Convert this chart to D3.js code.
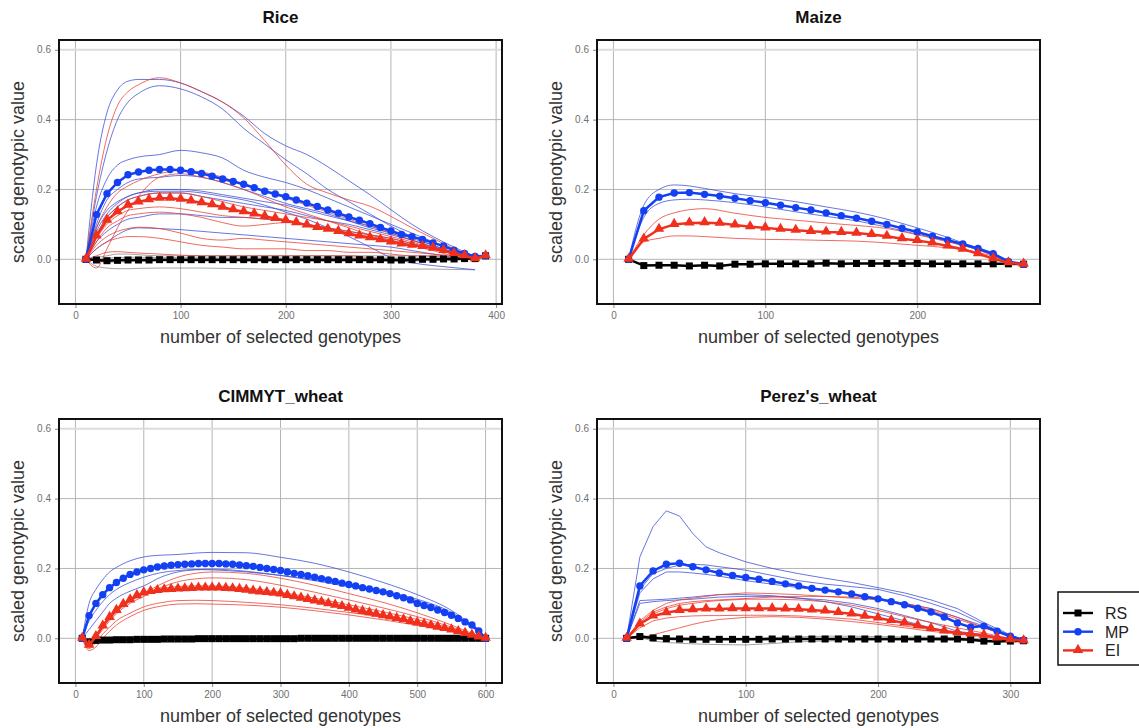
<!DOCTYPE html>
<html>
<head>
<meta charset="utf-8">
<script src="https://cdn.jsdelivr.net/npm/d3@7"></script>
<style>
body { margin: 0; background: #fff; }
text { font-family: "Liberation Sans", Arial, Helvetica, sans-serif; }
</style>
</head>
<body>
<svg width="1139" height="728"></svg>
<script>
// ---- data ----
var yTicks = [0, 0.2, 0.4, 0.6];

// Rice
var riceTicks = [0, 100, 200, 300, 400];
var riceX = [10,20,30,40,50,60,70,80,90,100,110,120,130,140,150,160,170,180,190,200,
  210,220,230,240,250,260,270,280,290,300,310,320,330,340,350,360,370,380,390];
var riceRS = [0,-0.002,-0.004,-0.003,-0.002,-0.002,-0.002,-0.001,-0.001,-0.001,
  -0.001,-0.001,-0.001,-0.001,-0.001,-0.001,-0.001,-0.001,-0.001,-0.001,
  -0.001,-0.001,-0.001,-0.001,-0.001,-0.001,-0.001,-0.001,-0.001,-0.002,
  -0.002,-0.001,0,0,0.001,0.001,0.002,0.002,0.01];
var riceMP = [0,0.128,0.188,0.22,0.242,0.25,0.255,0.257,0.257,0.255,
  0.251,0.246,0.238,0.23,0.223,0.215,0.205,0.195,0.187,0.179,
  0.17,0.161,0.151,0.141,0.132,0.121,0.112,0.102,0.091,0.081,
  0.071,0.065,0.057,0.047,0.038,0.026,0.017,0.008,0.01];
var riceEI = [0,0.067,0.112,0.136,0.155,0.164,0.171,0.175,0.175,0.172,
  0.167,0.162,0.156,0.149,0.142,0.136,0.13,0.123,0.117,0.111,
  0.105,0.098,0.091,0.086,0.08,0.073,0.067,0.062,0.056,0.05,
  0.044,0.04,0.037,0.032,0.025,0.017,0.01,0.002,0.01];
var riceThinX = [10,20,30,40,50,60,80,100,120,140,160,180,200,220,240,260,280,300,320,340,360,380];
var riceThinRS = [
  [0,-0.02,-0.025,-0.027,-0.027,-0.026,-0.025,-0.025,-0.025,-0.026,-0.027,-0.028,-0.028,-0.028,-0.028,-0.028,-0.028,-0.028,-0.028,-0.028,-0.029,-0.03],
  [0,0.005,0.01,0.015,0.015,0.013,0.01,0.01,0.01,0.01,0.01,0.01,0.01,0.01,0.01,0.01,0.01,0.01,0.01,0.008,0.005,0],
  [0,-0.005,-0.008,-0.008,-0.007,-0.006,-0.005,-0.005,-0.005,-0.005,-0.006,-0.006,-0.006,-0.006,-0.006,-0.006,-0.006,-0.006,-0.005,-0.004,-0.003,0],
  [0,0,0.003,0.005,0.006,0.006,0.005,0.005,0.004,0.004,0.004,0.004,0.004,0.004,0.004,0.004,0.004,0.004,0.004,0.004,0.003,0.002]
];
var riceThinMP = [
  [0,0.27,0.42,0.485,0.51,0.515,0.515,0.505,0.48,0.45,0.41,0.36,0.325,0.3,0.265,0.225,0.185,0.142,0.1,0.065,0.035,0.008],
  [0,0.18,0.31,0.4,0.45,0.475,0.497,0.488,0.465,0.43,0.375,0.33,0.285,0.245,0.2,0.165,0.13,0.095,0.065,0.04,0.02,0.005],
  [0,0.15,0.23,0.27,0.285,0.293,0.3,0.312,0.305,0.29,0.255,0.235,0.22,0.2,0.175,0.15,0.125,0.1,0.075,0.05,0.025,0.005],
  [0,0.1,0.17,0.2,0.22,0.23,0.235,0.24,0.235,0.22,0.2,0.18,0.16,0.145,0.13,0.11,0.09,0.075,0.055,0.035,0.02,0.005],
  [0,0.08,0.13,0.16,0.18,0.19,0.2,0.2,0.195,0.185,0.175,0.165,0.155,0.14,0.125,0.11,0.095,0.08,0.06,0.04,0.02,0.005],
  [0,0.07,0.12,0.15,0.17,0.18,0.19,0.19,0.18,0.17,0.16,0.15,0.14,0.125,0.11,0.1,0.085,0.07,0.055,0.035,0.02,0.005],
  [0,0.05,0.08,0.1,0.115,0.12,0.13,0.13,0.125,0.12,0.12,0.115,0.11,0.1,0.09,0.08,0.07,0.06,0.045,0.03,0.015,0.005],
  [0,0.03,0.05,0.07,0.085,0.09,0.088,0.085,0.08,0.075,0.07,0.065,0.06,0.055,0.05,0.045,0.04,0.035,0.025,0.015,0.005,0],
  [0,0.09,0.14,0.165,0.18,0.19,0.195,0.195,0.19,0.18,0.17,0.155,0.135,0.115,0.09,0.065,0.035,0.005,-0.01,-0.018,-0.024,-0.03]
];
var riceThinEI = [
  [0,0.2,0.35,0.44,0.48,0.5,0.52,0.505,0.48,0.45,0.405,0.34,0.27,0.215,0.19,0.17,0.152,0.123,0.09,0.06,0.03,0.005],
  [0,0.09,0.15,0.19,0.21,0.225,0.245,0.255,0.25,0.235,0.215,0.195,0.175,0.155,0.135,0.115,0.095,0.075,0.055,0.035,0.02,0.005],
  [0,-0.025,0.03,0.09,0.14,0.18,0.235,0.245,0.235,0.22,0.2,0.175,0.15,0.13,0.11,0.09,0.07,0.055,0.04,0.025,0.01,0.005],
  [0,0.07,0.12,0.15,0.17,0.18,0.19,0.19,0.18,0.165,0.15,0.14,0.13,0.12,0.11,0.095,0.08,0.065,0.05,0.03,0.015,0.005],
  [0,0.06,0.1,0.125,0.14,0.145,0.15,0.145,0.135,0.125,0.12,0.115,0.11,0.1,0.09,0.08,0.07,0.06,0.045,0.03,0.015,0.005],
  [0,0.05,0.09,0.11,0.125,0.13,0.135,0.13,0.12,0.105,0.095,0.1,0.105,0.1,0.09,0.075,0.065,0.055,0.04,0.03,0.015,0.005],
  [0,0.04,0.065,0.08,0.088,0.092,0.088,0.075,0.06,0.055,0.06,0.055,0.05,0.045,0.04,0.035,0.03,0.025,0.02,0.015,0.01,0.005],
  [0,0.03,0.05,0.06,0.065,0.065,0.06,0.05,0.04,0.035,0.03,0.03,0.03,0.025,0.025,0.02,0.02,0.015,0.01,0.01,0.005,0],
  [0,0.01,0.02,0.022,0.02,0.018,0.015,0.012,0.01,0.01,0.01,0.01,0.01,0.01,0.01,0.01,0.005,0,0,0,0,0]
];

// Maize
var maizeTicks = [0, 100, 200];
var maizeX = [10,20,30,40,50,60,70,80,90,100,110,120,130,140,150,160,170,180,190,200,
  210,220,230,240,250,260,270];
var maizeRS = [0,-0.018,-0.017,-0.017,-0.019,-0.017,-0.019,-0.014,-0.014,-0.013,
  -0.013,-0.013,-0.013,-0.011,-0.013,-0.012,-0.012,-0.012,-0.012,-0.012,
  -0.013,-0.013,-0.013,-0.013,-0.013,-0.013,-0.014];
var maizeMP = [0,0.139,0.178,0.19,0.191,0.186,0.181,0.175,0.168,0.162,
  0.155,0.148,0.141,0.133,0.125,0.118,0.109,0.1,0.089,0.078,
  0.066,0.055,0.044,0.031,0.016,-0.006,-0.014];
var maizeEI = [0,0.058,0.086,0.1,0.104,0.105,0.103,0.098,0.093,0.09,
  0.086,0.083,0.08,0.078,0.077,0.075,0.071,0.066,0.059,0.054,
  0.047,0.038,0.029,0.016,0.002,-0.01,-0.014];
var maizeThinX = [10,20,30,40,50,60,80,100,120,140,160,180,200,220,240,250,260,270];
var maizeThinRS = [
  [0,-0.015,-0.016,-0.017,-0.018,-0.017,-0.015,-0.014,-0.013,-0.012,-0.012,-0.012,-0.013,-0.013,-0.013,-0.013,-0.013,-0.014]
];
var maizeThinMP = [
  [0,0.155,0.2,0.213,0.21,0.203,0.188,0.177,0.165,0.15,0.135,0.115,0.09,0.063,0.03,0.012,-0.008,-0.014],
  [0,0.12,0.16,0.17,0.172,0.17,0.162,0.15,0.136,0.123,0.11,0.092,0.072,0.052,0.027,0.012,-0.006,-0.014]
];
var maizeThinEI = [
  [0,0.07,0.115,0.133,0.142,0.145,0.132,0.12,0.112,0.104,0.097,0.088,0.07,0.05,0.027,0.01,-0.006,-0.014],
  [0,0.05,0.06,0.067,0.067,0.065,0.06,0.057,0.056,0.054,0.052,0.047,0.04,0.033,0.02,0.008,-0.006,-0.014]
];

// CIMMYT_wheat
var cimmytTicks = [0, 100, 200, 300, 400, 500, 600];
var cimmytX = [10,20,30,40,50,60,70,80,90,100,110,120,130,140,150,160,170,180,190,200,
  210,220,230,240,250,260,270,280,290,300,310,320,330,340,350,360,370,380,390,400,
  410,420,430,440,450,460,470,480,490,500,510,520,530,540,550,560,570,580,590,600];
var cimmytRS = [0,-0.01,-0.006,-0.005,-0.005,-0.004,-0.004,-0.004,-0.003,-0.003,
  -0.003,-0.003,-0.002,-0.002,-0.002,-0.002,-0.002,-0.001,-0.001,-0.001,
  -0.001,-0.001,-0.001,-0.001,-0.001,-0.001,-0.001,-0.001,-0.001,-0.001,
  -0.001,-0.001,0,0,0,0,0,0,0,0,
  0,0,0,0,0,0,0,0,0,0,
  0,0,0,0,0,0,0,0,0,0];
var cimmytMP = [0,0.065,0.1,0.125,0.145,0.16,0.172,0.183,0.19,0.196,
  0.2,0.204,0.207,0.209,0.211,0.212,0.213,0.214,0.214,0.214,
  0.214,0.213,0.212,0.21,0.208,0.206,0.203,0.2,0.197,0.194,
  0.19,0.186,0.183,0.179,0.175,0.171,0.167,0.163,0.158,0.154,
  0.15,0.145,0.141,0.137,0.133,0.128,0.122,0.116,0.11,0.1,
  0.094,0.088,0.081,0.074,0.066,0.057,0.047,0.038,0.021,0];
var cimmytEI = [0,-0.02,0.005,0.035,0.06,0.08,0.097,0.11,0.122,0.13,
  0.134,0.137,0.139,0.14,0.141,0.142,0.143,0.144,0.144,0.144,
  0.144,0.143,0.142,0.14,0.138,0.135,0.133,0.131,0.129,0.127,
  0.123,0.119,0.115,0.111,0.107,0.103,0.099,0.095,0.091,0.086,
  0.081,0.077,0.073,0.069,0.065,0.061,0.057,0.053,0.048,0.044,
  0.04,0.036,0.032,0.028,0.024,0.019,0.014,0.009,0.004,0];
var cimmytThinX = [10,20,30,40,50,60,80,100,125,150,175,200,250,300,350,400,450,500,550,575,600];
var cimmytThinRS = [
  [0,-0.012,-0.01,-0.008,-0.007,-0.006,-0.005,-0.004,-0.003,-0.003,-0.002,-0.002,-0.001,-0.001,0,0,0,0,0,0,0]
];
var cimmytThinMP = [
  [0,0.1,0.14,0.168,0.19,0.203,0.222,0.233,0.238,0.24,0.244,0.246,0.245,0.232,0.215,0.19,0.16,0.125,0.08,0.045,0],
  [0,0.025,0.05,0.075,0.1,0.115,0.135,0.15,0.175,0.19,0.196,0.198,0.192,0.18,0.165,0.148,0.13,0.108,0.07,0.04,0],
  [0,0.05,0.08,0.105,0.125,0.14,0.16,0.175,0.188,0.194,0.197,0.196,0.19,0.18,0.168,0.152,0.135,0.112,0.074,0.042,0]
];
var cimmytThinEI = [
  [0,-0.02,0.005,0.03,0.055,0.075,0.105,0.128,0.155,0.175,0.186,0.19,0.186,0.172,0.152,0.128,0.103,0.073,0.038,0.018,0],
  [0,-0.025,0,0.025,0.05,0.07,0.1,0.12,0.145,0.162,0.17,0.173,0.168,0.152,0.132,0.11,0.087,0.062,0.032,0.014,0],
  [0,-0.03,-0.012,0.012,0.032,0.05,0.072,0.09,0.102,0.108,0.109,0.108,0.103,0.096,0.086,0.074,0.06,0.043,0.023,0.01,0],
  [0,-0.035,-0.025,0,0.02,0.038,0.062,0.08,0.092,0.098,0.099,0.098,0.095,0.089,0.079,0.067,0.053,0.037,0.019,0.008,0],
  [0,-0.015,0.01,0.04,0.065,0.085,0.11,0.128,0.142,0.148,0.15,0.15,0.144,0.132,0.115,0.096,0.076,0.054,0.028,0.012,0]
];

// Perez's_wheat
var perezTicks = [0, 100, 200, 300];
var perezX = [10,20,30,40,50,60,70,80,90,100,110,120,130,140,150,160,170,180,190,200,
  210,220,230,240,250,260,270,280,290,300,310];
var perezRS = [0,0.005,0.001,-0.001,-0.002,-0.003,-0.003,-0.003,-0.003,-0.003,
  -0.003,-0.002,-0.002,-0.002,-0.002,-0.002,-0.002,-0.002,-0.002,-0.002,
  -0.002,-0.002,-0.002,-0.002,-0.002,-0.002,-0.004,-0.008,-0.009,-0.008,-0.007];
var perezMP = [0,0.15,0.193,0.212,0.215,0.205,0.196,0.187,0.18,0.174,
  0.169,0.163,0.156,0.15,0.143,0.138,0.133,0.127,0.119,0.113,
  0.105,0.096,0.086,0.075,0.061,0.044,0.032,0.035,0.02,0.006,-0.005];
var perezEI = [0,0.041,0.064,0.073,0.08,0.082,0.084,0.084,0.085,0.085,
  0.085,0.085,0.084,0.083,0.081,0.078,0.074,0.07,0.063,0.058,
  0.051,0.044,0.036,0.028,0.021,0.016,0.0125,0.009,0.001,-0.004,-0.007];
var perezThinX = [10,20,30,40,50,60,70,80,100,120,140,160,180,200,220,240,260,280,300,310];
var perezThinRS = [
  [0,0.003,-0.008,-0.012,-0.014,-0.016,-0.017,-0.018,-0.019,-0.015,-0.01,-0.008,-0.006,-0.005,-0.005,-0.005,-0.006,-0.008,-0.008,-0.007],
  [0,0.008,0.004,0.002,0.002,0.002,0.001,0,0,0.002,0.004,0.006,0.006,0.005,0.004,0.003,0.002,-0.004,-0.008,-0.007]
];
var perezThinMP = [
  [0,0.233,0.32,0.365,0.35,0.3,0.262,0.245,0.219,0.2,0.185,0.172,0.16,0.145,0.13,0.11,0.085,0.045,0.01,-0.005],
  [0,0.14,0.185,0.2,0.21,0.212,0.21,0.205,0.195,0.18,0.165,0.155,0.148,0.14,0.122,0.1,0.075,0.04,0.008,-0.005],
  [0,0.13,0.17,0.19,0.19,0.187,0.183,0.178,0.165,0.155,0.145,0.135,0.125,0.115,0.1,0.085,0.06,0.035,0.005,-0.005],
  [0,0.108,0.11,0.112,0.115,0.118,0.122,0.125,0.125,0.122,0.115,0.105,0.09,0.07,0.05,0.03,0.015,0.005,0,-0.005],
  [0,0.1,0.105,0.108,0.11,0.112,0.115,0.118,0.12,0.12,0.115,0.11,0.1,0.085,0.065,0.045,0.02,0.01,0,-0.005]
];
var perezThinEI = [
  [0,0.05,0.08,0.1,0.11,0.115,0.12,0.125,0.13,0.128,0.125,0.12,0.115,0.11,0.1,0.085,0.06,0.03,0.005,-0.007],
  [0,0.04,0.07,0.085,0.095,0.1,0.105,0.108,0.112,0.112,0.11,0.105,0.095,0.08,0.062,0.045,0.03,0.015,0,-0.007],
  [0,0.03,0.05,0.058,0.062,0.064,0.065,0.065,0.066,0.066,0.064,0.06,0.055,0.045,0.035,0.025,0.015,0.007,0,-0.007],
  [0,0,0.01,0.02,0.03,0.04,0.048,0.054,0.06,0.062,0.06,0.055,0.048,0.04,0.03,0.02,0.012,0.005,0,-0.007],
  [0,0.045,0.075,0.09,0.1,0.105,0.108,0.11,0.114,0.118,0.12,0.12,0.118,0.112,0.1,0.08,0.055,0.03,0.005,-0.007]
];

var methods = ["RS", "MP", "EI"];

// ---- layout ----
var svg = d3.select("svg");
var PW = 443, PH = 264;
var THICK = { RS: "#000000", MP: "#1240f2", EI: "#f0301c" };
var THIN = { RS: "#555555", MP: "#3548d6", EI: "#e8392e" };

var panels = [
  { title: "Rice", xmax: 390, ticks: riceTicks, left: 59, top: 40, curve: d3.curveMonotoneX,
    x: riceX, RS: riceRS, MP: riceMP, EI: riceEI,
    thinX: riceThinX, thin: { RS: riceThinRS, MP: riceThinMP, EI: riceThinEI } },
  { title: "Maize", xmax: 270, ticks: maizeTicks, left: 597, top: 40, curve: d3.curveMonotoneX,
    x: maizeX, RS: maizeRS, MP: maizeMP, EI: maizeEI,
    thinX: maizeThinX, thin: { RS: maizeThinRS, MP: maizeThinMP, EI: maizeThinEI } },
  { title: "CIMMYT_wheat", xmax: 600, ticks: cimmytTicks, left: 59, top: 419, curve: d3.curveMonotoneX,
    x: cimmytX, RS: cimmytRS, MP: cimmytMP, EI: cimmytEI,
    thinX: cimmytThinX, thin: { RS: cimmytThinRS, MP: cimmytThinMP, EI: cimmytThinEI } },
  { title: "Perez's_wheat", xmax: 310, ticks: perezTicks, left: 597, top: 419, curve: d3.curveLinear,
    x: perezX, RS: perezRS, MP: perezMP, EI: perezEI,
    thinX: perezThinX, thin: { RS: perezThinRS, MP: perezThinMP, EI: perezThinEI } }
];

function drawMarkers(g, m, pts) {
  if (m === "RS") {
    g.selectAll(".m").data(pts).enter().append("rect")
      .attr("x", function(d) { return d[0] - 3.5; })
      .attr("y", function(d) { return d[1] - 3.5; })
      .attr("width", 7).attr("height", 7)
      .attr("fill", THICK.RS);
  } else if (m === "MP") {
    g.selectAll(".m").data(pts).enter().append("circle")
      .attr("cx", function(d) { return d[0]; })
      .attr("cy", function(d) { return d[1]; })
      .attr("r", 3.7)
      .attr("fill", THICK.MP);
  } else {
    var tri = d3.symbol().type(d3.symbolTriangle).size(48);
    g.selectAll(".m").data(pts).enter().append("path")
      .attr("d", tri)
      .attr("transform", function(d) { return "translate(" + d[0] + "," + (d[1] - 0.5) + ")"; })
      .attr("fill", THICK.EI);
  }
}

function drawPanel(p, i) {
  var x = d3.scaleLinear().domain([-0.04 * p.xmax, 1.04 * p.xmax]).range([p.left, p.left + PW]);
  var y = d3.scaleLinear().domain([-0.128, 0.628]).range([p.top + PH, p.top]);
  var g = svg.append("g");

  g.append("clipPath").attr("id", "clip" + i).append("rect")
    .attr("x", p.left).attr("y", p.top).attr("width", PW).attr("height", PH);

  // grid
  g.append("g").selectAll("line").data(p.ticks).enter().append("line")
    .attr("x1", function(d) { return x(d); }).attr("x2", function(d) { return x(d); })
    .attr("y1", p.top).attr("y2", p.top + PH)
    .attr("stroke", "#b4b4b4").attr("stroke-width", 1);
  g.append("g").selectAll("line").data(yTicks).enter().append("line")
    .attr("x1", p.left).attr("x2", p.left + PW)
    .attr("y1", function(d) { return y(d); }).attr("y2", function(d) { return y(d); })
    .attr("stroke", function(d) { return d === 0.6 ? "#dcdcdc" : "#b4b4b4"; })
    .attr("stroke-width", function(d) { return d === 0.6 ? 2 : 1; });

  // axes
  var ax = g.append("g").attr("transform", "translate(0," + (p.top + PH) + ")")
    .call(d3.axisBottom(x).tickValues(p.ticks).tickSize(4).tickPadding(4));
  var ay = g.append("g").attr("transform", "translate(" + p.left + ",0)")
    .call(d3.axisLeft(y).tickValues(yTicks).tickFormat(d3.format(".1f")).tickSize(4).tickPadding(4));
  [ax, ay].forEach(function(a) {
    a.select(".domain").remove();
    a.selectAll("line").attr("stroke", "#888");
    a.selectAll("text").attr("fill", "#707070").style("font-size", "10px")
      .style("font-family", "'Liberation Sans', Arial, sans-serif");
  });

  var plot = g.append("g").attr("clip-path", "url(#clip" + i + ")");

  // thin lines for each trait
  var thinLine = d3.line()
    .x(function(d) { return x(d[0]); })
    .y(function(d) { return y(d[1]); })
    .curve(p.curve);
  methods.forEach(function(m) {
    p.thin[m].forEach(function(vals) {
      var pts = vals.map(function(v, k) { return [p.thinX[k], v]; });
      plot.append("path").datum(pts)
        .attr("d", thinLine)
        .attr("fill", "none")
        .attr("stroke", THIN[m])
        .attr("stroke-opacity", m === "RS" ? 0.55 : 0.75)
        .attr("stroke-width", 1);
    });
  });

  // averaged lines with markers
  var thickLine = d3.line()
    .x(function(d) { return d[0]; })
    .y(function(d) { return d[1]; });
  methods.forEach(function(m) {
    var pts = p[m].map(function(v, k) { return [x(p.x[k]), y(v)]; });
    var mg = plot.append("g");
    mg.append("path").datum(pts)
      .attr("d", thickLine)
      .attr("fill", "none")
      .attr("stroke", THICK[m])
      .attr("stroke-width", 2.5);
    drawMarkers(mg, m, pts);
  });

  // box
  g.append("rect")
    .attr("x", p.left).attr("y", p.top).attr("width", PW).attr("height", PH)
    .attr("fill", "none").attr("stroke", "#111").attr("stroke-width", 2);

  // labels
  g.append("text")
    .attr("x", p.left + PW / 2).attr("y", p.top - 17)
    .attr("text-anchor", "middle")
    .style("font-size", "17px").style("font-weight", "bold").attr("fill", "#111")
    .text(p.title);
  g.append("text")
    .attr("x", p.left + PW / 2).attr("y", p.top + PH + 39)
    .attr("text-anchor", "middle")
    .style("font-size", "18px").attr("fill", "#333")
    .text("number of selected genotypes");
  g.append("text")
    .attr("transform", "translate(" + (p.left - 35) + "," + (p.top + PH / 2) + ") rotate(-90)")
    .attr("text-anchor", "middle")
    .style("font-size", "18px").attr("fill", "#333")
    .text("scaled genotypic value");
}

panels.forEach(drawPanel);

// legend
var leg = svg.append("g");
leg.append("rect")
  .attr("x", 1058).attr("y", 592).attr("width", 100).attr("height", 73)
  .attr("fill", "#fff").attr("stroke", "#111").attr("stroke-width", 1.5);
methods.forEach(function(m, k) {
  var ly = 613 + k * 18.7;
  var row = leg.append("g");
  row.append("line").attr("x1", 1063).attr("x2", 1093).attr("y1", ly).attr("y2", ly)
    .attr("stroke", THICK[m]).attr("stroke-width", 2.4);
  drawMarkers(row, m, [[1078, ly]]);
  row.append("text").attr("x", 1105).attr("y", ly + 6)
    .style("font-size", "16px").attr("fill", "#222").text(m);
});
</script>
</body>
</html>
